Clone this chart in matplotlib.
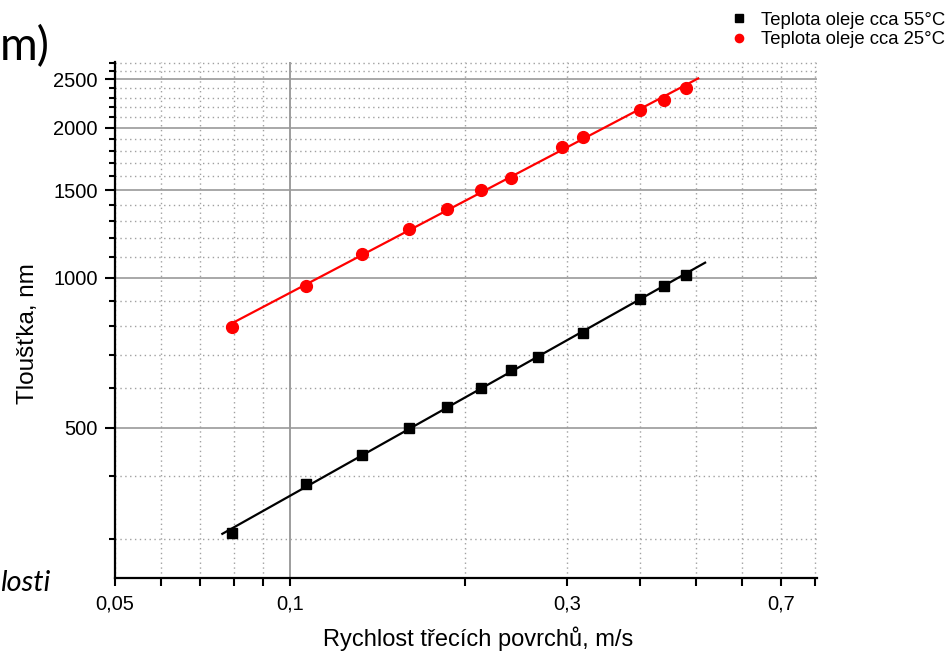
import numpy as np
import matplotlib
matplotlib.use("Agg")
import matplotlib.pyplot as plt
from matplotlib.ticker import FixedLocator, FixedFormatter, NullFormatter

# ---- data ----
speed = [0.0795, 0.1065, 0.133, 0.160, 0.186, 0.213, 0.240, 0.267, 0.319, 0.400, 0.440, 0.481]
thick_55 = [308, 386, 441, 500, 551, 601, 653, 694, 775, 907, 964, 1014]
speed_25 = [0.0795, 0.1065, 0.133, 0.160, 0.186, 0.213, 0.240, 0.294, 0.319, 0.400, 0.440, 0.481]
thick_25 = [797, 964, 1117, 1254, 1376, 1500, 1588, 1833, 1920, 2175, 2277, 2407]
fit_range_55 = [0.0765, 0.518]
fit_range_25 = [0.0782, 0.504]

label_55 = "Teplota oleje cca 55°C"
label_25 = "Teplota oleje cca 25°C"

x_major = [0.05, 0.1, 0.3, 0.7]
x_major_labels = ["0,05", "0,1", "0,3", "0,7"]
x_minor = [0.06, 0.07, 0.08, 0.09, 0.2, 0.4, 0.5, 0.6, 0.8]
y_major = [500, 1000, 1500, 2000, 2500]
y_major_labels = ["500", "1000", "1500", "2000", "2500"]
y_minor = [300, 400, 600, 700, 800, 900, 1100, 1200, 1300, 1400, 1600, 1700, 1800,
           1900, 2100, 2200, 2300, 2400, 2600, 2700]

plt.rcParams['font.family'] = ['Liberation Sans', 'DejaVu Sans']

fig = plt.figure(figsize=(9.47, 6.56), dpi=100)
ax = fig.add_axes([115/947, 1-578/656, (817-115)/947, (578-62)/656])

ax.set_xscale('log')
ax.set_yscale('log')
ax.set_xlim(0.05, 0.807)
ax.set_ylim(250, 2710)

# grid
for v in x_major + x_minor:
    if v == 0.1:
        ax.axvline(v, color='#8c8c8c', lw=1.2, zorder=0)
    else:
        ax.axvline(v, color='#a0a0a0', lw=1.0, ls=(0, (1, 2.5)), zorder=0)
for v in y_minor:
    ax.axhline(v, color='#a0a0a0', lw=1.0, ls=(0, (1, 2.5)), zorder=0)
for v in y_major:
    ax.axhline(v, color='#9a9a9a', lw=1.2, zorder=0)

# power-law fits
def fit_line(xs, ys, rng):
    p = np.polyfit(np.log10(xs), np.log10(ys), 1)
    xx = np.logspace(np.log10(rng[0]), np.log10(rng[1]), 50)
    return xx, 10 ** np.polyval(p, np.log10(xx))

xx, yy = fit_line(speed, thick_55, fit_range_55)
ax.plot(xx, yy, color='black', lw=1.6, zorder=2)
xx, yy = fit_line(speed_25, thick_25, fit_range_25)
ax.plot(xx, yy, color='#ff0000', lw=1.6, zorder=2)

h1, = ax.plot(speed, thick_55, 's', color='black', ms=7.5, ls='none', zorder=3, label=label_55)
h2, = ax.plot(speed_25, thick_25, 'o', color='#ff0000', ms=8.5, ls='none', zorder=3, label=label_25)

# ticks
ax.xaxis.set_major_locator(FixedLocator(x_major))
ax.xaxis.set_major_formatter(FixedFormatter(x_major_labels))
ax.xaxis.set_minor_locator(FixedLocator(x_minor))
ax.xaxis.set_minor_formatter(NullFormatter())
ax.yaxis.set_major_locator(FixedLocator(y_major))
ax.yaxis.set_major_formatter(FixedFormatter(y_major_labels))
ax.yaxis.set_minor_locator(FixedLocator(y_minor))
ax.yaxis.set_minor_formatter(NullFormatter())

ax.tick_params(axis='x', which='both', direction='out', length=6, width=1.5, labelsize=14.5, pad=6)
ax.tick_params(axis='y', which='major', direction='out', length=7.5, width=1.5, labelsize=14.5, pad=5)
ax.tick_params(axis='y', which='minor', direction='out', length=4.5, width=1.5)

for s in ['top', 'right']:
    ax.spines[s].set_visible(False)
for s in ['left', 'bottom']:
    ax.spines[s].set_linewidth(1.6)

ax.set_xlabel("Rychlost třecích povrchů, m/s", fontsize=17)
ax.set_ylabel("Tloušťka, nm", fontsize=17.5)
ax.xaxis.set_label_coords(0.517, -0.093)
ax.yaxis.set_label_coords(-0.108, 0.474)

fig.legend(handles=[h1, h2], loc='upper right', bbox_to_anchor=(1.0, 0.985),
           frameon=False, fontsize=13.3, markerscale=0.7, handlelength=1.0,
           handletextpad=0.7, labelspacing=0.15, borderaxespad=0.0, borderpad=0.1)

# cropped slide text around the chart
fig.text(0.0, 1-60/656, "m)", fontsize=33, family=['Lato', 'DejaVu Sans'], va='baseline', ha='left')
fig.text(0.0, 1-591/656, "losti", fontsize=21, style='italic', family=['Lato', 'DejaVu Sans'],
         va='baseline', ha='left')

fig.savefig("out.png", dpi=100)
